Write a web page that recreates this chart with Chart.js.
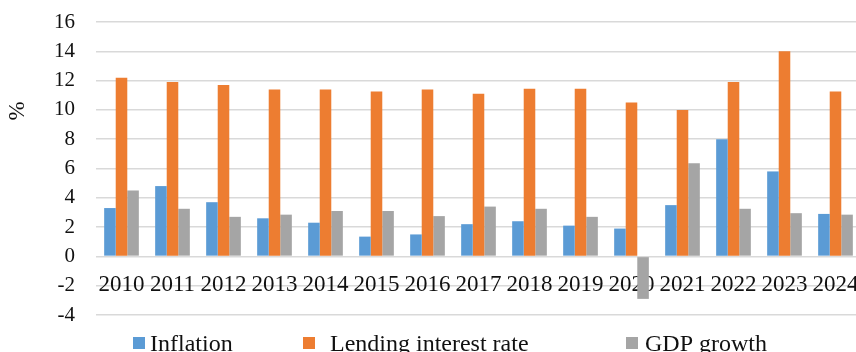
<!DOCTYPE html>
<html>
<head>
<meta charset="utf-8">
<script src="https://cdn.jsdelivr.net/npm/chart.js@4.4.1/dist/chart.umd.min.js"></script>
<style>
  html, body { margin: 0; padding: 0; background: #fff; overflow: hidden; }
  #wrap { position: relative; width: 861px; height: 352px; }
</style>
</head>
<body>
<div id="wrap"><canvas id="chart"></canvas></div>
<script>
// Data
const years = ['2010', '2011', '2012', '2013', '2014', '2015', '2016', '2017',
               '2018', '2019', '2020', '2021', '2022', '2023', '2024'];
const inflation = [3.3, 4.8, 3.7, 2.6, 2.3, 1.35, 1.5, 2.2, 2.4, 2.1, 1.9, 3.5, 8.0, 5.8, 2.9];
const lendingRate = [12.2, 11.9, 11.7, 11.4, 11.4, 11.25, 11.4, 11.1, 11.45, 11.45, 10.5, 10.0, 11.9, 14.0, 11.25];
const gdpGrowth = [4.5, 3.25, 2.7, 2.85, 3.1, 3.1, 2.75, 3.4, 3.25, 2.7, -2.9, 6.35, 3.25, 2.95, 2.85];
const yTicks = { min: -4, max: 16, step: 2 };

const seriesColors = ['#5B9BD5', '#ED7D31', '#A5A5A5'];
const serif = '"Liberation Serif", "Times New Roman", serif';
const textColor = '#111';

// Legend positions (left edge of swatch) and gap between swatch and text
const legendLeft = [133, 303, 626];
const legendGap = [5, 15, 7];

// Draws the rotated "%" axis label and the legend row at the bottom
const extrasPlugin = {
    id: 'extras',
    afterDraw(chart) {
        const ctx = chart.ctx;
        const area = chart.chartArea;
        ctx.save();
        ctx.fillStyle = textColor;
        ctx.font = '23px ' + serif;
        ctx.textAlign = 'center';
        ctx.textBaseline = 'middle';
        ctx.translate(area.left - 78, area.top + 89);
        ctx.rotate(-Math.PI / 2);
        ctx.fillText('%', 0, 0);
        ctx.restore();

        ctx.save();
        ctx.font = '24px ' + serif;
        ctx.textBaseline = 'alphabetic';
        ctx.textAlign = 'left';
        chart.data.datasets.forEach((ds, i) => {
            const x = legendLeft[i];
            ctx.fillStyle = ds.backgroundColor;
            ctx.fillRect(x, 337, 12, 12);
            ctx.fillStyle = textColor;
            ctx.fillText(ds.label, x + 12 + legendGap[i], 351);
        });
        ctx.restore();
    }
};

new Chart(document.getElementById('chart'), {
    type: 'bar',
    data: {
        labels: years,
        datasets: [
            { label: 'Inflation', data: inflation, backgroundColor: seriesColors[0] },
            { label: 'Lending interest rate', data: lendingRate, backgroundColor: seriesColors[1] },
            { label: 'GDP growth', data: gdpGrowth, backgroundColor: seriesColors[2] }
        ]
    },
    options: {
        responsive: true,
        maintainAspectRatio: false,
        animation: false,
        categoryPercentage: 0.68,
        barPercentage: 1.0,
        layout: { padding: { top: 22, bottom: 37, left: 0, right: 0 } },
        plugins: {
            legend: { display: false },
            tooltip: { enabled: false }
        },
        scales: {
            x: {
                position: { y: -2 },
                grid: { display: false },
                border: { display: false },
                ticks: {
                    color: textColor,
                    font: { family: serif, size: 23 },
                    padding: -23,
                    maxRotation: 0,
                    autoSkip: false
                },
                afterFit: (scale) => { scale.height = 0; }
            },
            y: {
                min: yTicks.min,
                max: yTicks.max,
                grid: { color: '#d9d9d9', lineWidth: 1.5, drawTicks: false },
                border: { display: false },
                ticks: {
                    stepSize: yTicks.step,
                    color: textColor,
                    font: { family: serif, size: 21 },
                    padding: 21
                },
                afterFit: (scale) => {
                    scale.width = 96;
                    // tick padding would otherwise be added above/below the plot
                    scale.paddingTop = 0;
                    scale.paddingBottom = 0;
                }
            }
        }
    },
    plugins: [extrasPlugin]
});
</script>
</body>
</html>
